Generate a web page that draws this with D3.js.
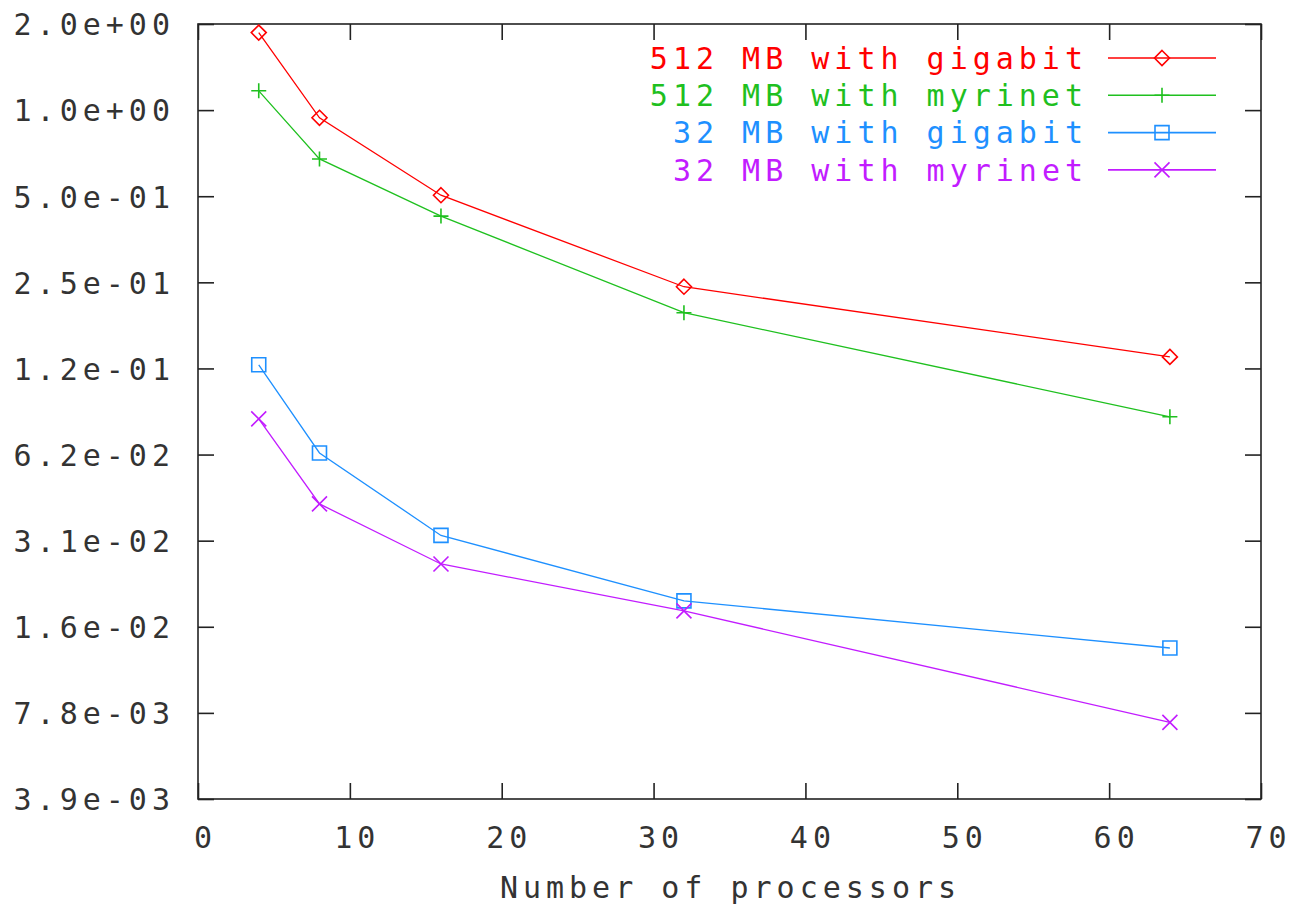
<!DOCTYPE html>
<html lang="en">
<head>
<meta charset="UTF-8">
<title>Number of processors</title>
<script src="https://d3js.org/d3.v7.min.js"></script>
<style>
    body { margin: 0; background: #fff; }
    text {
        font-family: "DejaVu Sans Mono", "Liberation Mono", monospace;
        font-size: 30px;
        letter-spacing: 5px;
    }
    .frame { fill: none; stroke: #222; stroke-width: 1.6px; }
    .tick line { stroke: #222; stroke-width: 1.6px; }
</style>
</head>
<body>
<svg width="1297" height="909"></svg>
<script>
    // data
    var procs = [4, 8, 16, 32, 64];
    var gig512 = [1.866, 0.940, 0.504, 0.2413, 0.1372];
    var myr512 = [1.168, 0.675, 0.426, 0.1958, 0.0847];
    var gig32  = [0.1287, 0.0633, 0.0326, 0.01924, 0.01317];
    var myr32  = [0.0833, 0.0420, 0.0259, 0.01775, 0.00724];

    var seriesNames  = ["512 MB with gigabit", "512 MB with myrinet", "32 MB with gigabit", "32 MB with myrinet"];
    var seriesColors = ["#ff0000", "#1fc01f", "#1e90ff", "#c21cff"];
    var seriesMarks  = ["diamond", "plus", "square", "cross"];

    var xTicks = [0, 10, 20, 30, 40, 50, 60, 70];
    var yTicks = [2, 1, 0.5, 0.25, 0.125, 0.0625, 0.03125, 0.015625, 0.0078125, 0.00390625];
    var yTickLabels = ["2.0e+00", "1.0e+00", "5.0e-01", "2.5e-01", "1.2e-01",
                       "6.2e-02", "3.1e-02", "1.6e-02", "7.8e-03", "3.9e-03"];
    var xTitle = "Number of processors";

    var svg = d3.select("svg");
    // plot box (don't call it "top", that is window.top)
    var mLeft = 198, mRight = 1261, mTop = 24, mBottom = 799;
    var tickLen = 16;

    var x = d3.scaleLinear().domain([0, 70]).range([mLeft, mRight]);
    var y = d3.scaleLog().base(2).domain([0.00390625, 2]).range([mBottom, mTop]);

    // frame
    svg.append("rect").attr("class", "frame")
        .attr("x", mLeft).attr("y", mTop)
        .attr("width", mRight - mLeft).attr("height", mBottom - mTop);

    // axes, ticks pointing inwards, mirrored on the other side
    var xAxis = svg.append("g").attr("transform", "translate(0," + mBottom + ")")
        .call(d3.axisBottom(x).tickValues(xTicks).tickSizeInner(-tickLen).tickSizeOuter(0).tickPadding(22));
    svg.append("g").attr("transform", "translate(0," + mTop + ")")
        .call(d3.axisTop(x).tickValues(xTicks).tickSizeInner(-tickLen).tickSizeOuter(0).tickFormat(""));
    var yAxis = svg.append("g").attr("transform", "translate(" + mLeft + ",0)")
        .call(d3.axisLeft(y).tickValues(yTicks).tickSizeInner(-tickLen).tickSizeOuter(0).tickPadding(22)
            .tickFormat(function (d, i) { return yTickLabels[i]; }));
    svg.append("g").attr("transform", "translate(" + mRight + ",0)")
        .call(d3.axisRight(y).tickValues(yTicks).tickSizeInner(-tickLen).tickSizeOuter(0).tickFormat(""));

    svg.selectAll(".domain").remove();
    xAxis.selectAll(".tick text")
        .attr("fill", "#333").attr("font-size", null).attr("font-family", null)
        .attr("dx", 7).attr("dy", "0.9em");
    yAxis.selectAll(".tick text")
        .attr("fill", "#333").attr("font-size", null).attr("font-family", null)
        .attr("x", -23).attr("dx", 0).attr("dy", "0.36em");

    svg.append("text")
        .attr("x", (mLeft + mRight) / 2 + 1).attr("y", 898)
        .attr("text-anchor", "middle").attr("fill", "#333")
        .text(xTitle);

    function markerPath(kind, cx, cy) {
        var s = 7.5;
        if (kind === "diamond")
            return "M" + cx + "," + (cy - s) + "L" + (cx + s) + "," + cy + "L" + cx + "," + (cy + s) + "L" + (cx - s) + "," + cy + "Z";
        if (kind === "plus")
            return "M" + (cx - s) + "," + cy + "H" + (cx + s) + "M" + cx + "," + (cy - s) + "V" + (cy + s);
        if (kind === "square")
            return "M" + (cx - 7) + "," + (cy - 7) + "h14v14h-14Z";
        return "M" + (cx - s) + "," + (cy - s) + "L" + (cx + s) + "," + (cy + s) + "M" + (cx + s) + "," + (cy - s) + "L" + (cx - s) + "," + (cy + s);
    }

    var allSeries = [gig512, myr512, gig32, myr32];
    var line = d3.line()
        .x(function (d, i) { return x(procs[i]); })
        .y(function (d) { return y(d); });

    allSeries.forEach(function (vals, k) {
        var g = svg.append("g");
        g.append("path")
            .attr("d", line(vals))
            .attr("fill", "none")
            .attr("stroke", seriesColors[k])
            .attr("stroke-width", 1.3);
        vals.forEach(function (v, i) {
            g.append("path")
                .attr("d", markerPath(seriesMarks[k], x(procs[i]), y(v)))
                .attr("fill", "none")
                .attr("stroke", seriesColors[k])
                .attr("stroke-width", 1.6);
        });

        // legend entry
        var ly = 58 + k * 37.3;
        svg.append("text")
            .attr("x", 1088).attr("y", ly)
            .attr("dy", "0.36em")
            .attr("text-anchor", "end")
            .attr("fill", seriesColors[k])
            .text(seriesNames[k]);
        svg.append("line")
            .attr("x1", 1108).attr("x2", 1216)
            .attr("y1", ly).attr("y2", ly)
            .attr("stroke", seriesColors[k]).attr("stroke-width", 1.6);
        svg.append("path")
            .attr("d", markerPath(seriesMarks[k], 1162, ly))
            .attr("fill", "none")
            .attr("stroke", seriesColors[k])
            .attr("stroke-width", 1.6);
    });
</script>
</body>
</html>
